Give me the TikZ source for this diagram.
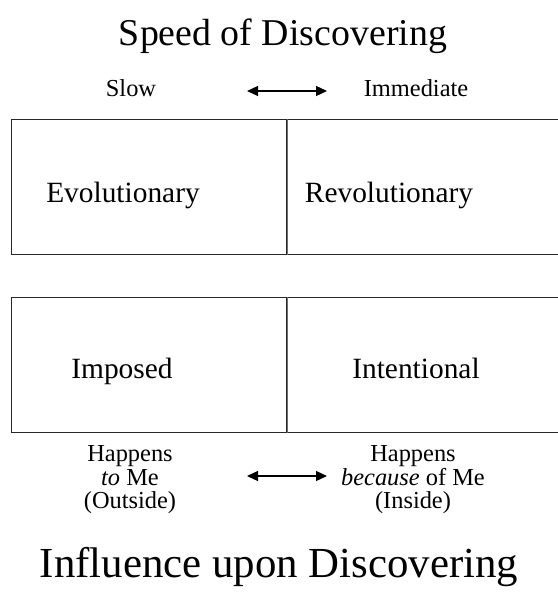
\documentclass[tikz,border=0pt]{standalone}
\usepackage{fontspec}
\setmainfont{Liberation Serif}
\usetikzlibrary{arrows.meta, positioning}
\definecolor{framec}{RGB}{40,40,40}
\definecolor{splitc}{RGB}{110,110,110}
\definecolor{inkc}{RGB}{0,0,0}
\tikzset{
  cell/.style={
    rectangle, draw=framec, line width=1.3bp, inner sep=0pt,
    minimum width=275bp, minimum height=135bp
  },
  title/.style={font=\fontsize{38}{44}\selectfont, text=inkc, inner sep=0pt, anchor=base},
  bigtitle/.style={font=\fontsize{43}{50}\selectfont, text=inkc, inner sep=0pt, anchor=base},
  kind/.style={font=\fontsize{29.5}{34}\selectfont, text=inkc, inner sep=0pt, anchor=base},
  side/.style={font=\fontsize{24.5}{23.5}\selectfont, text=inkc, inner sep=0pt, align=center},
  darr/.style={{Triangle[length=11bp, width=10bp]}-{Triangle[length=11bp, width=10bp]},
               line width=1.2bp, draw=inkc},
}

\begin{document}
\begin{tikzpicture}[x=1bp, y=-1bp]
  \useasboundingbox (0,0) rectangle (558,598);

  % speed (top)
  \node[title] (speed) at (283,46) {Speed of Discovering};
  \node[side, anchor=base] (slow) at (131,97) {Slow};
  \node[side, anchor=base] (immediate) at (416,97) {Immediate};
  \coordinate (sa) at (247,91);
  \coordinate (sb) at (327,91);
  \draw[darr] (sa) -- (sb);

  \node[cell, anchor=north west] (evo) at (11,119) {};
  \node[cell, anchor=north west] (rev) at (286,119) {};
  \node[kind] (evotxt) at (123,202) {Evolutionary};
  \node[kind] (revtxt) at (389,202) {Revolutionary};

  % influence (bottom)
  \node[cell, anchor=north west] (imp) at (11,297) {};
  \node[cell, anchor=north west] (int) at (286,297) {};
  \node[kind] (imptxt) at (122,378) {Imposed};
  \node[kind] (inttxt) at (416,378) {Intentional};
  \draw[splitc, line width=1.3bp] (evo.north east) -- (evo.south east);
  \draw[splitc, line width=1.3bp] (imp.north east) -- (imp.south east);

  \node[side] (outside) at (130,480) {Happens\\\textit{to} Me\\(Outside)};
  \node[side] (inside) at (413,480) {Happens\\\textit{because} of Me\\(Inside)};
  \coordinate (ia) at (247,476);
  \coordinate (ib) at (327,476);
  \draw[darr] (ia) -- (ib);

  \node[bigtitle] (influence) at (279,577) {Influence upon Discovering};
\end{tikzpicture}
\end{document}
